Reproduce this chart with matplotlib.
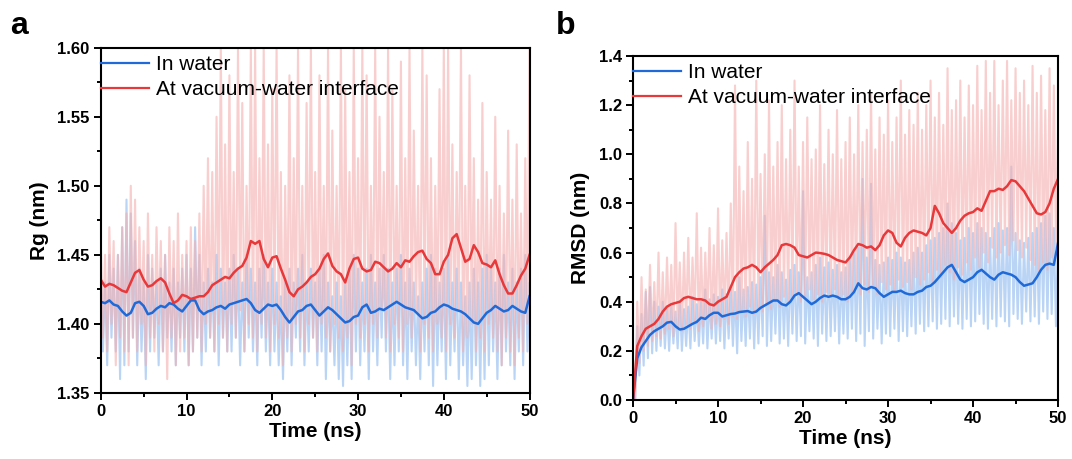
import matplotlib
matplotlib.use("Agg")
import matplotlib.pyplot as plt
import numpy as np
from matplotlib.ticker import MultipleLocator

plt.rcParams["font.family"] = ["Liberation Sans", "DejaVu Sans"]

# time grid (ns), one sample every 0.5 ns
time_ns = np.arange(0, 50.01, 0.5)

# ---- panel a: radius of gyration (nm), smoothed traces
rg_water = [
    1.416, 1.415, 1.417, 1.414, 1.413, 1.409, 1.406, 1.408, 1.415, 1.416,
    1.413, 1.407, 1.408, 1.411, 1.413, 1.412, 1.415, 1.414, 1.411, 1.409,
    1.413, 1.417, 1.417, 1.410, 1.407, 1.409, 1.410, 1.412, 1.413, 1.411,
    1.414, 1.415, 1.416, 1.417, 1.418, 1.415, 1.410, 1.408, 1.411, 1.414,
    1.413, 1.414, 1.410, 1.405, 1.401, 1.405, 1.409, 1.410, 1.413, 1.414,
    1.410, 1.406, 1.409, 1.412, 1.410, 1.407, 1.404, 1.401, 1.402, 1.405,
    1.406, 1.412, 1.414, 1.408, 1.409, 1.411, 1.410, 1.412, 1.414, 1.416,
    1.414, 1.412, 1.411, 1.410, 1.407, 1.404, 1.405, 1.408, 1.409, 1.412,
    1.414, 1.413, 1.411, 1.410, 1.409, 1.407, 1.404, 1.401, 1.400, 1.404,
    1.408, 1.410, 1.413, 1.411, 1.409, 1.410, 1.413, 1.411, 1.409, 1.408,
    1.420,
]
rg_interface = [
    1.432, 1.427, 1.429, 1.428, 1.426, 1.424, 1.423, 1.430, 1.437, 1.439,
    1.432, 1.427, 1.428, 1.431, 1.433, 1.430, 1.422, 1.415, 1.417, 1.421,
    1.420, 1.418, 1.419, 1.420, 1.420, 1.423, 1.428, 1.430, 1.432, 1.434,
    1.433, 1.437, 1.440, 1.442, 1.448, 1.460, 1.458, 1.460, 1.447, 1.441,
    1.448, 1.449, 1.440, 1.432, 1.423, 1.420, 1.425, 1.427, 1.430, 1.434,
    1.436, 1.440, 1.447, 1.451, 1.442, 1.438, 1.436, 1.430, 1.440, 1.447,
    1.448, 1.440, 1.438, 1.439, 1.445, 1.444, 1.441, 1.438, 1.440, 1.444,
    1.441, 1.446, 1.445, 1.449, 1.452, 1.453, 1.447, 1.444, 1.436, 1.436,
    1.445, 1.450, 1.462, 1.465, 1.455, 1.445, 1.447, 1.457, 1.452, 1.444,
    1.443, 1.441, 1.446, 1.436, 1.428, 1.422, 1.422, 1.428, 1.435, 1.440,
    1.450,
]

# raw (unsmoothed) fluctuation extremes, panel a
rg_water_peaks = [
    1.44, 1.43, 1.45, 1.44, 1.45, 1.47, 1.49, 1.48, 1.46, 1.44,
    1.43, 1.45, 1.44, 1.43, 1.44, 1.45, 1.43, 1.44, 1.43, 1.44,
    1.45, 1.44, 1.47, 1.45, 1.43, 1.44, 1.43, 1.45, 1.44, 1.43,
    1.44, 1.45, 1.44, 1.43, 1.45, 1.44, 1.43, 1.44, 1.45, 1.43,
    1.44, 1.43, 1.42, 1.43, 1.44, 1.43, 1.44, 1.45, 1.43, 1.44,
    1.43, 1.44, 1.45, 1.43, 1.42, 1.43, 1.42, 1.43, 1.44, 1.45,
    1.44, 1.43, 1.44, 1.45, 1.43, 1.44, 1.45, 1.44, 1.43, 1.44,
    1.45, 1.43, 1.44, 1.43, 1.42, 1.43, 1.44, 1.45, 1.44, 1.43,
    1.44, 1.45, 1.43, 1.44, 1.43, 1.42, 1.43, 1.44, 1.43, 1.44,
    1.45, 1.44, 1.43, 1.44, 1.45, 1.43, 1.44, 1.43, 1.44, 1.45,
    1.43,
]
rg_water_troughs = [
    1.38, 1.37, 1.39, 1.38, 1.36, 1.37, 1.38, 1.39, 1.37, 1.38,
    1.36, 1.38, 1.39, 1.37, 1.38, 1.39, 1.38, 1.37, 1.39, 1.38,
    1.37, 1.38, 1.39, 1.37, 1.38, 1.39, 1.38, 1.37, 1.39, 1.38,
    1.38, 1.39, 1.37, 1.38, 1.39, 1.38, 1.37, 1.39, 1.38, 1.37,
    1.38, 1.37, 1.36, 1.38, 1.37, 1.39, 1.38, 1.37, 1.38, 1.39,
    1.37, 1.38, 1.36, 1.38, 1.37, 1.36, 1.355, 1.37, 1.36, 1.38,
    1.37, 1.38, 1.36, 1.38, 1.37, 1.39, 1.38, 1.36, 1.37, 1.38,
    1.37, 1.36, 1.38, 1.37, 1.36, 1.38, 1.37, 1.355, 1.37, 1.38,
    1.36, 1.37, 1.38, 1.36, 1.37, 1.355, 1.36, 1.37, 1.355, 1.36,
    1.37, 1.38, 1.36, 1.37, 1.38, 1.37, 1.36, 1.38, 1.37, 1.38,
    1.39,
]
rg_interface_peaks = [
    1.46, 1.45, 1.47, 1.46, 1.45, 1.47, 1.48, 1.50, 1.49, 1.47,
    1.46, 1.48, 1.45, 1.47, 1.46, 1.45, 1.47, 1.46, 1.48, 1.45,
    1.46, 1.47, 1.46, 1.48, 1.50, 1.52, 1.51, 1.55, 1.60, 1.53,
    1.58, 1.51, 1.60, 1.56, 1.50, 1.60, 1.60, 1.52, 1.60, 1.53,
    1.57, 1.60, 1.51, 1.50, 1.58, 1.52, 1.60, 1.50, 1.56, 1.60,
    1.51, 1.58, 1.50, 1.60, 1.54, 1.50, 1.60, 1.57, 1.51, 1.60,
    1.52, 1.60, 1.58, 1.50, 1.60, 1.55, 1.51, 1.60, 1.57, 1.50,
    1.59, 1.52, 1.60, 1.54, 1.50, 1.60, 1.58, 1.52, 1.50, 1.57,
    1.60, 1.60, 1.53, 1.51, 1.60, 1.50, 1.58, 1.52, 1.49, 1.56,
    1.51, 1.49, 1.55, 1.50, 1.48, 1.54, 1.49, 1.53, 1.48, 1.52,
    1.60,
]
rg_interface_troughs = [
    1.39, 1.38, 1.40, 1.37, 1.39, 1.38, 1.37, 1.39, 1.38, 1.40,
    1.37, 1.39, 1.38, 1.40, 1.38, 1.36, 1.39, 1.37, 1.38, 1.39,
    1.37, 1.38, 1.39, 1.38, 1.40, 1.39, 1.38, 1.40, 1.39, 1.38,
    1.40, 1.39, 1.41, 1.38, 1.40, 1.39, 1.38, 1.40, 1.39, 1.38,
    1.40, 1.39, 1.37, 1.39, 1.38, 1.40, 1.39, 1.38, 1.40, 1.39,
    1.38, 1.40, 1.39, 1.38, 1.40, 1.39, 1.38, 1.39, 1.37, 1.40,
    1.39, 1.40, 1.38, 1.40, 1.39, 1.41, 1.39, 1.38, 1.40, 1.39,
    1.38, 1.40, 1.39, 1.41, 1.38, 1.40, 1.39, 1.38, 1.40, 1.39,
    1.38, 1.40, 1.39, 1.41, 1.38, 1.39, 1.40, 1.38, 1.39, 1.38,
    1.40, 1.39, 1.38, 1.37, 1.39, 1.38, 1.37, 1.39, 1.38, 1.40,
    1.39,
]

# ---- panel b: RMSD (nm), smoothed traces
rmsd_water = [
    0.000, 0.170, 0.215, 0.240, 0.265, 0.280, 0.290, 0.300, 0.315, 0.318,
    0.300, 0.287, 0.290, 0.300, 0.310, 0.318, 0.335, 0.330, 0.345, 0.355,
    0.355, 0.340, 0.345, 0.350, 0.352, 0.358, 0.360, 0.362, 0.355, 0.360,
    0.375, 0.385, 0.395, 0.405, 0.405, 0.390, 0.385, 0.400, 0.425, 0.435,
    0.420, 0.405, 0.390, 0.400, 0.415, 0.425, 0.420, 0.425, 0.420, 0.410,
    0.410, 0.420, 0.440, 0.475, 0.455, 0.450, 0.460, 0.455, 0.435, 0.420,
    0.430, 0.440, 0.440, 0.445, 0.435, 0.430, 0.430, 0.440, 0.445, 0.460,
    0.465, 0.480, 0.500, 0.520, 0.540, 0.550, 0.520, 0.490, 0.480, 0.490,
    0.500, 0.520, 0.530, 0.515, 0.500, 0.490, 0.510, 0.520, 0.515, 0.510,
    0.500, 0.480, 0.465, 0.470, 0.475, 0.500, 0.530, 0.550, 0.555, 0.550,
    0.640,
]
rmsd_interface = [
    0.000, 0.220, 0.260, 0.290, 0.300, 0.310, 0.330, 0.360, 0.380, 0.390,
    0.395, 0.400, 0.415, 0.420, 0.415, 0.410, 0.410, 0.405, 0.390, 0.385,
    0.400, 0.410, 0.420, 0.460, 0.500, 0.520, 0.535, 0.540, 0.550, 0.540,
    0.520, 0.540, 0.555, 0.570, 0.590, 0.630, 0.635, 0.630, 0.620, 0.590,
    0.585, 0.580, 0.590, 0.600, 0.598, 0.595, 0.590, 0.580, 0.570, 0.565,
    0.560, 0.580, 0.610, 0.635, 0.630, 0.620, 0.625, 0.610, 0.630, 0.670,
    0.690, 0.680, 0.640, 0.625, 0.660, 0.680, 0.690, 0.685, 0.680, 0.670,
    0.700, 0.790, 0.760, 0.720, 0.700, 0.680, 0.700, 0.730, 0.750, 0.760,
    0.765, 0.780, 0.770, 0.810, 0.850, 0.850, 0.860, 0.855, 0.870, 0.895,
    0.890, 0.870, 0.850, 0.820, 0.790, 0.760, 0.755, 0.765, 0.800, 0.860,
    0.900,
]

# raw fluctuation extremes, panel b
rmsd_water_peaks = [
    0.05, 0.30, 0.35, 0.44, 0.46, 0.40, 0.38, 0.40, 0.37, 0.38,
    0.36, 0.40, 0.37, 0.38, 0.42, 0.39, 0.40, 0.45, 0.41, 0.43,
    0.42, 0.45, 0.43, 0.46, 0.44, 0.50, 0.45, 0.46, 0.48, 0.47,
    0.50, 0.75, 0.52, 0.50, 0.55, 0.52, 0.49, 0.53, 0.55, 0.52,
    0.85, 0.50, 0.52, 0.55, 0.58, 0.54, 0.56, 0.53, 0.55, 0.52,
    0.54, 0.58, 0.60, 0.62, 0.90, 0.58, 0.88, 0.57, 0.55, 0.56,
    0.58, 0.57, 0.60, 0.58, 0.56, 0.57, 0.60, 0.62, 0.60, 0.63,
    0.65, 0.66, 0.68, 0.70, 0.80, 0.72, 0.68, 0.65, 0.66, 0.70,
    0.68, 0.72, 0.70, 0.68, 0.66, 0.70, 0.72, 0.69, 0.70, 0.95,
    0.68, 0.65, 0.64, 0.66, 0.68, 0.70, 0.72, 0.75, 0.76, 0.70,
    0.65,
]
rmsd_water_troughs = [
    0.00, 0.10, 0.14, 0.17, 0.19, 0.20, 0.22, 0.21, 0.20, 0.23,
    0.21, 0.20, 0.22, 0.21, 0.24, 0.22, 0.23, 0.21, 0.25, 0.23,
    0.24, 0.21, 0.25, 0.22, 0.19, 0.24, 0.22, 0.25, 0.21, 0.23,
    0.26, 0.22, 0.24, 0.27, 0.23, 0.25, 0.22, 0.27, 0.24, 0.26,
    0.23, 0.28, 0.25, 0.22, 0.27, 0.24, 0.26, 0.28, 0.23, 0.27,
    0.25, 0.29, 0.24, 0.27, 0.22, 0.28, 0.25, 0.29, 0.23, 0.27,
    0.26, 0.29, 0.24, 0.28, 0.26, 0.30, 0.27, 0.31, 0.28, 0.30,
    0.32, 0.29, 0.31, 0.33, 0.30, 0.34, 0.31, 0.29, 0.33, 0.30,
    0.32, 0.35, 0.31, 0.29, 0.33, 0.30, 0.34, 0.32, 0.30, 0.35,
    0.33, 0.31, 0.36, 0.32, 0.34, 0.31, 0.36, 0.33, 0.35, 0.30,
    0.40,
]
rmsd_interface_peaks = [
    0.00, 0.40, 0.50, 0.45, 0.55, 0.48, 0.60, 0.52, 0.58, 0.55,
    0.72, 0.56, 0.60, 0.66, 0.58, 0.76, 0.62, 0.60, 0.70, 0.63,
    0.78, 0.65, 0.68, 0.80, 1.28, 0.95, 0.85, 1.05, 0.90, 1.30,
    0.92, 1.00, 1.22, 0.95, 1.05, 1.20, 0.98, 1.10, 1.30, 0.95,
    1.05, 1.15, 0.98, 1.02, 1.20, 0.96, 1.10, 1.00, 1.18, 0.98,
    1.05, 1.15, 1.00, 1.20, 1.05, 1.10, 1.25, 1.02, 1.15, 1.08,
    1.22, 1.05, 1.15, 1.30, 1.08, 1.18, 1.12, 1.25, 1.10, 1.20,
    1.30, 1.15, 1.25, 1.12, 1.35, 1.18, 1.22, 1.30, 1.15, 1.28,
    1.20, 1.36, 1.18, 1.38, 1.25, 1.38, 1.20, 1.30, 1.38, 1.22,
    1.35, 1.25, 1.30, 1.20, 1.36, 1.25, 1.32, 1.18, 1.35, 1.28,
    1.10,
]
rmsd_interface_troughs = [
    0.00, 0.15, 0.20, 0.22, 0.24, 0.26, 0.25, 0.27, 0.29, 0.26,
    0.30, 0.28, 0.31, 0.29, 0.32, 0.28, 0.30, 0.33, 0.29, 0.31,
    0.30, 0.33, 0.31, 0.34, 0.33, 0.36, 0.34, 0.38, 0.35, 0.37,
    0.36, 0.39, 0.37, 0.40, 0.38, 0.42, 0.39, 0.41, 0.44, 0.40,
    0.42, 0.45, 0.41, 0.43, 0.40, 0.44, 0.42, 0.45, 0.41, 0.43,
    0.40, 0.44, 0.46, 0.43, 0.47, 0.44, 0.46, 0.43, 0.48, 0.45,
    0.47, 0.44, 0.49, 0.46, 0.48, 0.45, 0.50, 0.47, 0.49, 0.52,
    0.48, 0.53, 0.50, 0.55, 0.52, 0.49, 0.54, 0.51, 0.56, 0.53,
    0.58, 0.54, 0.60, 0.56, 0.62, 0.58, 0.60, 0.63, 0.59, 0.65,
    0.61, 0.58, 0.62, 0.57, 0.55, 0.52, 0.56, 0.53, 0.58, 0.62,
    0.70,
]

labels = ["In water", "At vacuum-water interface"]
BLUE = "#1f6ad8"
RED = "#e8383a"
BLUE_RAW = "#b3d0f4"
RED_RAW = "#f5b0b0"


def zigzag(t, peaks, troughs):
    """Interleave peak/trough samples into one raw trace."""
    x = np.empty(2 * len(t))
    y = np.empty(2 * len(t))
    x[0::2] = t
    x[1::2] = t + 0.25
    y[0::2] = peaks
    y[1::2] = troughs
    return x, y


def draw_panel(ax, water, interface, water_raw, interface_raw):
    xw, yw = zigzag(time_ns, *water_raw)
    xi, yi = zigzag(time_ns, *interface_raw)
    ax.plot(xw, yw, color=BLUE_RAW, lw=1.5, alpha=0.9, zorder=1)
    ax.plot(xi, yi, color=RED_RAW, lw=1.5, alpha=0.62, zorder=2)
    ax.plot(time_ns, water, color=BLUE, lw=1.8, label=labels[0], zorder=3)
    ax.plot(time_ns, interface, color=RED, lw=1.8, label=labels[1], zorder=4)

    ax.set_xlim(0, 50)
    ax.xaxis.set_major_locator(MultipleLocator(10))
    ax.xaxis.set_minor_locator(MultipleLocator(5))
    ax.set_xlabel("Time (ns)", fontsize=15, fontweight="bold", labelpad=2)
    ax.tick_params(which="both", direction="out", width=1.4, top=False, right=False)
    ax.tick_params(which="major", length=5, labelsize=12, pad=3)
    ax.tick_params(which="minor", length=3)
    for lab in ax.get_xticklabels() + ax.get_yticklabels():
        lab.set_fontweight("bold")
    for spine in ax.spines.values():
        spine.set_linewidth(1.5)
        spine.set_zorder(5)
    leg = ax.legend(loc="upper left", bbox_to_anchor=(-0.005, 0.985), frameon=False,
                    fontsize=15, handlelength=2.3, handletextpad=0.35,
                    labelspacing=0.3, borderpad=0.1, borderaxespad=0)
    for line in leg.get_lines():
        line.set_linewidth(1.6)


fig = plt.figure(figsize=(10.72, 4.59), dpi=100)
ax_a = fig.add_axes([0.094, 0.144, 0.400, 0.752])
ax_b = fig.add_axes([0.5905, 0.1285, 0.3965, 0.7495])

ax_a.set_ylim(1.35, 1.60)
ax_a.yaxis.set_major_locator(MultipleLocator(0.05))
ax_a.yaxis.set_minor_locator(MultipleLocator(0.025))
ax_a.yaxis.set_major_formatter(plt.FormatStrFormatter("%.2f"))
ax_a.set_ylabel("Rg (nm)", fontsize=15, fontweight="bold", labelpad=6)
draw_panel(ax_a, rg_water, rg_interface,
           (rg_water_peaks, rg_water_troughs),
           (rg_interface_peaks, rg_interface_troughs))

ax_b.set_ylim(0.0, 1.4)
ax_b.yaxis.set_major_locator(MultipleLocator(0.2))
ax_b.yaxis.set_minor_locator(MultipleLocator(0.1))
ax_b.yaxis.set_major_formatter(plt.FormatStrFormatter("%.1f"))
ax_b.set_ylabel("RMSD (nm)", fontsize=15, fontweight="bold", labelpad=6)
draw_panel(ax_b, rmsd_water, rmsd_interface,
           (rmsd_water_peaks, rmsd_water_troughs),
           (rmsd_interface_peaks, rmsd_interface_troughs))

fig.text(0.009, 0.925, "a", fontsize=23, fontweight="bold")
fig.text(0.519, 0.925, "b", fontsize=23, fontweight="bold")

fig.savefig("out.png", dpi=100)
